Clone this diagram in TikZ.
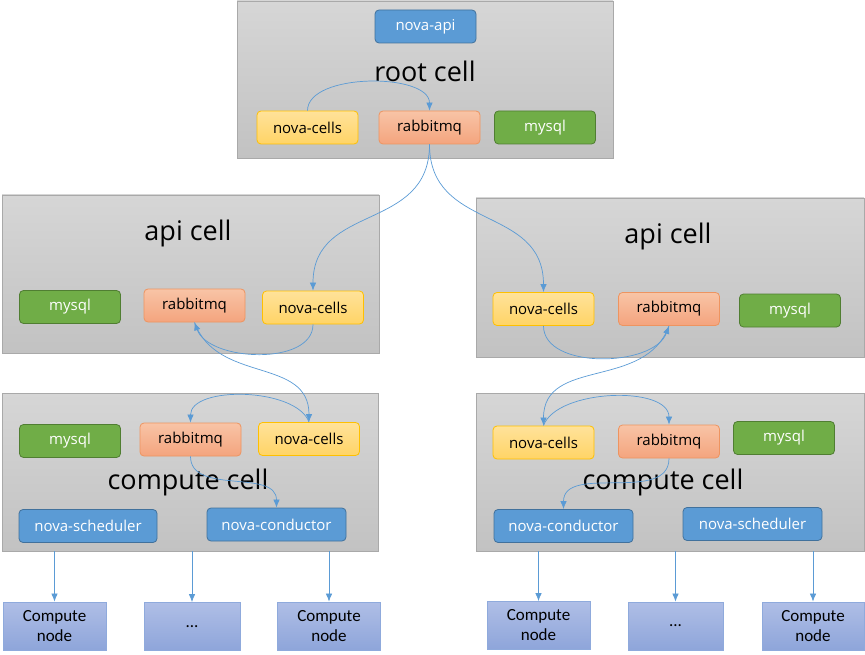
\documentclass[tikz,border=0pt]{standalone}
\usepackage{fontspec}
\setmainfont{Open Sans}
\newfontfamily\nodefont{Carlito}
\usepackage{tikz}
\usetikzlibrary{arrows,arrows.meta}

\definecolor{celltop}{HTML}{D6D6D6}
\definecolor{cellbot}{HTML}{C2C2C2}
\definecolor{cellline}{HTML}{A9A9A9}
\definecolor{bluef}{HTML}{5B9BD5}
\definecolor{bluel}{HTML}{41719C}
\definecolor{yeltop}{HTML}{FFE29A}
\definecolor{yelbot}{HTML}{FFD466}
\definecolor{yell}{HTML}{FFC000}
\definecolor{mqtop}{HTML}{F8C4A6}
\definecolor{mqbot}{HTML}{F4A47E}
\definecolor{mql}{HTML}{EE9460}
\definecolor{greenf}{HTML}{70AD47}
\definecolor{greenl}{HTML}{507E32}
\definecolor{cntop}{HTML}{AFBEE6}
\definecolor{cnbot}{HTML}{8EA5DA}
\definecolor{cnl}{HTML}{8FAADC}
\definecolor{linkc}{HTML}{5B9BD5}

\begin{document}
\begin{tikzpicture}[x=1pt, y=-1pt, >={Latex[length=8pt, width=6.5pt]}, line width=0.8pt,
    cellbg/.style={draw=cellline, line width=0.6pt, top color=celltop, bottom color=cellbot, inner sep=0pt},
    celltitle/.style={font=\fontsize{27}{30}\selectfont},
    box/.style={rounded corners=4pt, minimum width=101pt, minimum height=33pt, inner sep=0pt, line width=0.8pt, font=\fontsize{15}{17}\selectfont},
    apibox/.style={box, draw=bluel, fill=bluef, text=white},
    cellsbox/.style={box, draw=yell, top color=yeltop, bottom color=yelbot},
    mqbox/.style={box, draw=mql, top color=mqtop, bottom color=mqbot},
    dbbox/.style={box, draw=greenl, fill=greenf, text=white},
    cnode/.style={draw=cnl, top color=cntop, bottom color=cnbot, minimum width=103pt, minimum height=48pt, inner sep=0pt, align=center, font=\nodefont\fontsize{17}{20}\selectfont},
    link/.style={color=linkc, line width=0.7pt}]
    \useasboundingbox (0,0) rectangle (865,655);

    % Cells {root, left api, right api, left compute, right compute}
    \node [cellbg, minimum width=376pt, minimum height=157pt] (ro)  at (425,79.5) {};
    \node [cellbg, minimum width=377pt, minimum height=158pt] (lac) at (190.5,274) {};
    \node [cellbg, minimum width=388pt, minimum height=159pt] (rac) at (670,277.5) {};
    \node [cellbg, minimum width=376pt, minimum height=158pt] (lcc) at (190,472) {};
    \node [cellbg, minimum width=388pt, minimum height=158pt] (rcc) at (670,472) {};

    \node [celltitle] (rotitle)  at (425,71)  {root cell};
    \node [celltitle] (lactitle) at (188,233) {api cell};
    \node [celltitle] (ractitle) at (668,236) {api cell};
    \node [celltitle] (lcctitle) at (188,482) {compute cell};
    \node [celltitle] (rcctitle) at (663,482) {compute cell};

    % Nodes in root cell
    \node [apibox]   (roapi)   at (425.5,26.5)  {nova-api};
    \node [cellsbox] (rocells) at (307.5,127.5) {nova-cells};
    \node [mqbox]    (romq)    at (429.5,127.5) {rabbitmq};
    \node [dbbox]    (rodb)    at (545,127.5)   {mysql};

    % Nodes in api cells
    \node [dbbox]    (ladb)    at (70,307)      {mysql};
    \node [mqbox]    (lamq)    at (194.5,305.5) {rabbitmq};
    \node [cellsbox] (lacells) at (313,307.5)   {nova-cells};
    \node [cellsbox] (racells) at (543.5,309)   {nova-cells};
    \node [mqbox]    (ramq)    at (669,309)     {rabbitmq};
    \node [dbbox]    (radb)    at (790,310.5)   {mysql};

    % Nodes in compute cells
    \node [dbbox]    (lcdb)    at (70,441)      {mysql};
    \node [mqbox]    (lcmq)    at (190.5,439.5) {rabbitmq};
    \node [cellsbox] (lccells) at (309,439)     {nova-cells};
    \node [apibox, minimum width=138pt] (lcsched) at (88,526)      {nova-scheduler};
    \node [apibox, minimum width=139pt] (lccond)  at (276.5,524.5) {nova-conductor};
    \node [cellsbox] (rccells) at (543.5,442.5) {nova-cells};
    \node [mqbox]    (rcmq)    at (669,441.5)   {rabbitmq};
    \node [dbbox]    (rcdb)    at (784,438)     {mysql};
    \node [apibox, minimum width=139pt] (rccond)  at (563.5,526)   {nova-conductor};
    \node [apibox, minimum width=139pt] (rcsched) at (752.5,524)   {nova-scheduler};

    % Compute nodes
    \node [cnode] (lcn1) at (54.5,626) {Compute\\node};
    \node [cnode, minimum width=96pt] (lcn2) at (192,626.5) {...};
    \node [cnode] (lcn3) at (329,626) {Compute\\node};
    \node [cnode] (rcn1) at (538.5,625.5) {Compute\\node};
    \node [cnode, minimum width=95pt] (rcn2) at (675.5,626) {...};
    \node [cnode, minimum width=102pt] (rcn3) at (813,626) {Compute\\node};

    % Paths
    \path [->, link] (rocells.north) edge [out=90, in=90, looseness=0.8]  (romq.north);
    \path [->, link] (romq.south)    edge [out=-90, in=90, looseness=1.2] (lacells.north);
    \path [->, link] (romq.south)    edge [out=-90, in=90, looseness=1.2] (racells.north);

    \path [->, link] (lacells.south) edge [out=-90, in=-70, looseness=0.9] (lamq.south);
    \path [->, link] (lamq.south)    edge [out=-70, in=90, looseness=1.1]  (lccells.north);
    \path [->, link] (lccells.north) edge [out=110, in=90, looseness=0.8]  (lcmq.north);
    \path [->, link] (lcmq.south)    edge [out=-90, in=90]                 (lccond.north);

    \path [->, link] (racells.south) edge [out=-90, in=-110, looseness=0.9] (ramq.south);
    \path [->, link] (ramq.south)    edge [out=-110, in=90, looseness=1.1]  (rccells.north);
    \path [->, link] (rccells.north) edge [out=70, in=90, looseness=0.8]    (rcmq.north);
    \path [->, link] (rcmq.south)    edge [out=-90, in=90]                  (rccond.north);

    \path [->, link] (lcc.south -| lcn1) edge (lcn1);
    \path [->, link] (lcc.south -| lcn2) edge (lcn2);
    \path [->, link] (lcc.south -| lcn3) edge (lcn3);
    \path [->, link] (rcc.south -| rcn1) edge (rcn1);
    \path [->, link] (rcc.south -| rcn2) edge (rcn2);
    \path [->, link] (rcc.south -| rcn3) edge (rcn3);

\end{tikzpicture}
\end{document}
